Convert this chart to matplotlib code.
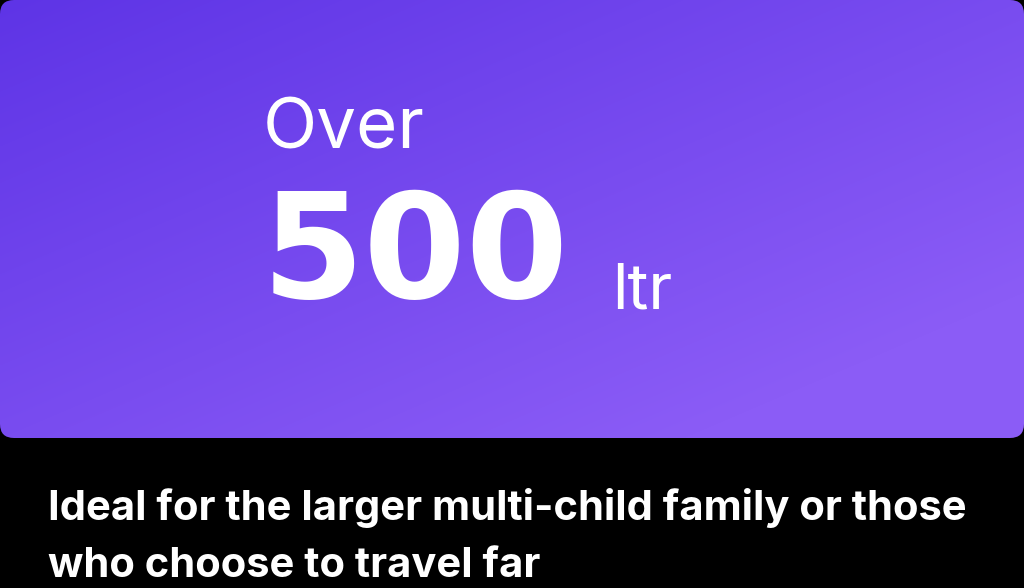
import matplotlib
matplotlib.use("Agg")
import matplotlib.pyplot as plt
import numpy as np
from matplotlib.patches import FancyBboxPatch

prefix = "Over"
value = "500"
unit = "ltr"
caption = ["Ideal for the larger multi-child family or those", "who choose to travel far"]

fig = plt.figure(figsize=(10.24, 5.88), dpi=100, facecolor="black")
ax = fig.add_axes([0, 0, 1, 1])
ax.set_xlim(0, 1024); ax.set_ylim(588, 0); ax.axis("off")
ax.set_facecolor("black")

yy, xx = np.mgrid[0:438, 0:1024]
t = np.clip((xx / 1024 * 0.6 + yy / 438 * 0.6), 0, 1)
c0 = np.array([0x5E, 0x34, 0xE6]) / 255
c1 = np.array([0x8B, 0x5C, 0xF6]) / 255
img = c0 + (c1 - c0) * t[..., None]
im = ax.imshow(img, extent=(0, 1024, 438, 0), zorder=1)
clip = FancyBboxPatch((0, 0), 1024, 438, boxstyle="round,pad=0,rounding_size=14",
                      transform=ax.transData, facecolor="none", edgecolor="none")
ax.add_patch(clip)
im.set_clip_path(clip)
ax.set_xlim(0, 1024); ax.set_ylim(588, 0)

ax.text(263, 130, prefix, color="white", fontsize=51, family="Inter", va="center", ha="left", zorder=3)
ax.text(262, 258, value, color="white", fontsize=106, family="DejaVu Sans", fontweight="bold", va="center", ha="left", zorder=3)
ax.text(612, 292, unit, color="white", fontsize=46, family="Inter", va="center", ha="left", zorder=3)
ax.text(48, 508, caption[0], color="white", fontsize=30, family="Inter", fontweight="bold", va="center", ha="left", zorder=3)
ax.text(48, 566, caption[1], color="white", fontsize=30, family="Inter", fontweight="bold", va="center", ha="left", zorder=3)

fig.savefig("out.png", dpi=100, facecolor="black")
